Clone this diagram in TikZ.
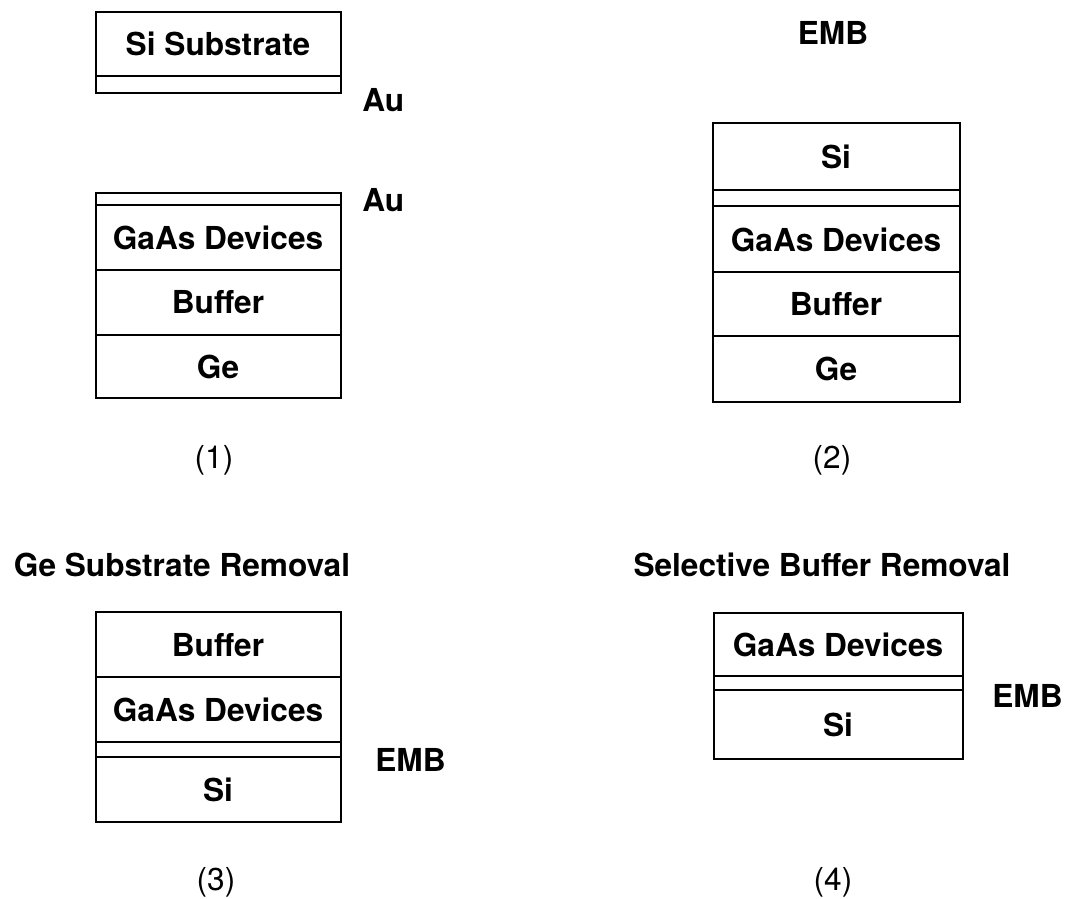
\documentclass[tikz,border=0pt]{standalone}
\usepackage{fontspec}
\setmainfont{TeX Gyre Heros}

\begin{document}
\begin{tikzpicture}[x=0.02cm, y=-0.02cm,
    layer/.style={draw=black, line width=1.6pt},
    lbl/.style={font=\fontsize{18}{21}\selectfont\bfseries, inner sep=0pt},
    stepno/.style={font=\fontsize{18}{21}\selectfont, inner sep=0pt}]
  \useasboundingbox (0,0) rectangle (1066,899);

  % step 1: Si substrate and GaAs wafer, both with Au
	\draw[layer] (96,12) rectangle (341,93);
	\draw[layer] (96,76) -- (341,76);
	\node[lbl] (sisub) at (218,44) {Si Substrate};
	\node[lbl, anchor=west] (au1) at (362,100) {Au};

	\draw[layer] (96,193) rectangle (341,398);
	\draw[layer] (96,205) -- (341,205);
	\draw[layer] (96,270) -- (341,270);
	\draw[layer] (96,335) -- (341,335);
	\node[lbl] (gaas1) at (218,238) {GaAs Devices};
	\node[lbl] (buf1) at (218,302) {Buffer};
	\node[lbl] (ge1) at (218,367) {Ge};
	\node[lbl, anchor=west] (au2) at (362,200) {Au};
	\node[stepno] (no1) at (214,460) {(1)};

  % step 2: bonded with EMB
	\node[lbl] (emb2) at (833,33) {EMB};
	\draw[layer] (713,123) rectangle (960,402);
	\draw[layer] (713,190) -- (960,190);
	\draw[layer] (713,206) -- (960,206);
	\draw[layer] (713,272) -- (960,272);
	\draw[layer] (713,336) -- (960,336);
	\node[lbl] (si2) at (836,157) {Si};
	\node[lbl] (gaas2) at (836,240) {GaAs Devices};
	\node[lbl] (buf2) at (836,304) {Buffer};
	\node[lbl] (ge2) at (836,369) {Ge};
	\node[stepno] (no2) at (832,460) {(2)};

  % step 3
	\node[lbl] (title3) at (182,565) {Ge Substrate Removal};
	\draw[layer] (96,612) rectangle (341,822);
	\draw[layer] (96,677) -- (341,677);
	\draw[layer] (96,742) -- (341,742);
	\draw[layer] (96,757) -- (341,757);
	\node[lbl] (buf3) at (218,645) {Buffer};
	\node[lbl] (gaas3) at (218,710) {GaAs Devices};
	\node[lbl] (si3) at (218,790) {Si};
	\node[lbl, anchor=west] (emb3) at (375,760) {EMB};
	\node[stepno] (no3) at (216,882) {(3)};

  % step 4
	\node[lbl] (title4) at (822,565) {Selective Buffer Removal};
	\draw[layer] (714,613) rectangle (963,759);
	\draw[layer] (714,676) -- (963,676);
	\draw[layer] (714,690) -- (963,690);
	\node[lbl] (gaas4) at (838,645) {GaAs Devices};
	\node[lbl] (si4) at (838,725) {Si};
	\node[lbl, anchor=west] (emb4) at (992,696) {EMB};
	\node[stepno] (no4) at (833,882) {(4)};
\end{tikzpicture}
\end{document}
